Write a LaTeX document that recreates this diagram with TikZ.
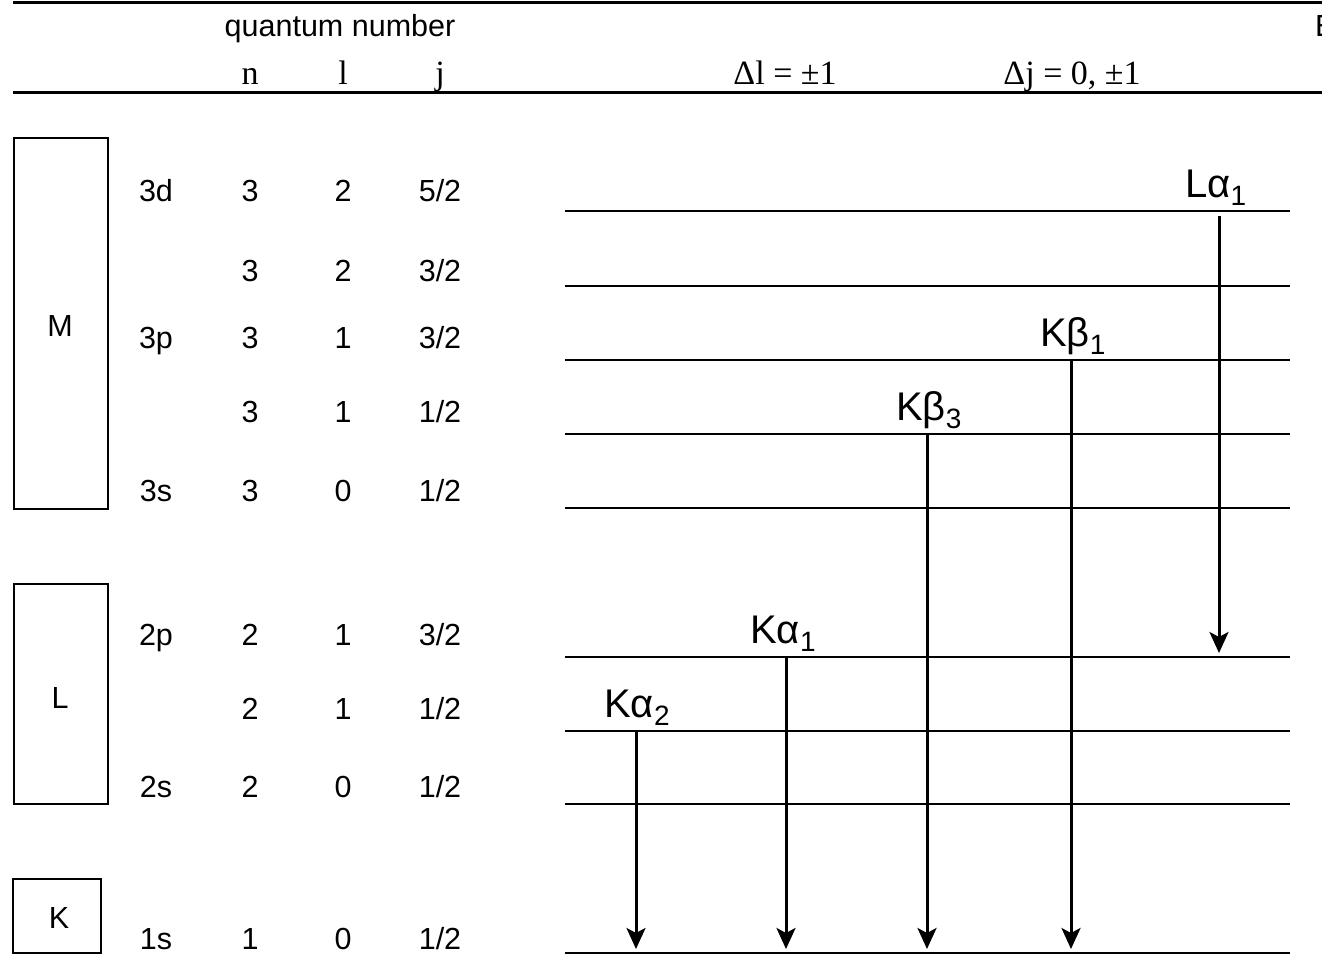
\documentclass[tikz,border=0pt]{standalone}
\usepackage{fontspec}
\setmainfont{Liberation Sans}
\newfontfamily\serfont{Liberation Serif}
\usetikzlibrary{arrows.meta}
\newcommand{\sbs}[1]{\raisebox{-0.42ex}{\fontsize{28}{28}\selectfont #1}}
\begin{document}
\begin{tikzpicture}[x=1pt,y=-1pt,
  rule/.style={line width=3pt},
  lvl/.style={line width=2.5pt},
  shellbox/.style={draw, line width=2.2pt},
  txt/.style={font=\fontsize{30.5}{30.5}\selectfont, inner sep=0, anchor=base},
  ser/.style={font=\serfont\fontsize{34}{34}\selectfont, inner sep=0, anchor=base},
  tlab/.style={font=\fontsize{40}{40}\selectfont, inner sep=0, anchor=base west},
  trans/.style={line width=3pt, shorten >=4pt, -{Stealth[length=21pt,width=19pt,inset=5pt]}}]
\useasboundingbox (0,0) rectangle (1322,955);
\clip (0,0) rectangle (1322,955);

% header rules
\coordinate (r1a) at (13,2.5); \coordinate (r1b) at (1322,2.5);
\coordinate (r2a) at (13,93);  \coordinate (r2b) at (1322,93);
\draw[rule] (r1a) -- (r1b);
\draw[rule] (r2a) -- (r2b);

% header text
\node[txt] (qn) at (340,37) {quantum number};
\node[txt, anchor=base west] (E) at (1315,37) {E};
\node[ser] (hn) at (250,85) {n};
\node[ser] (hl) at (343,85) {l};
\node[ser] (hj) at (440,85) {j};
\node[ser] (dl) at (785,85) {Δl = ±1};
\node[ser] (dj) at (1072,85) {Δj = 0, ±1};

% shell boxes
\draw[shellbox] (14,138) rectangle (108,509);
\draw[shellbox] (14,584) rectangle (108,804);
\draw[shellbox] (13,879) rectangle (101,953);
\node[txt] (M) at (60,336) {M};
\node[txt] (L) at (60,708) {L};
\node[txt] (K) at (59,928) {K};

% rows
\foreach \nm/\sub/\n/\l/\j/\yb in {
  a/3d/3/2/5\slash 2/201,
  b//3/2/3\slash 2/281,
  c/3p/3/1/3\slash 2/348,
  d//3/1/1\slash 2/422,
  e/3s/3/0/1\slash 2/501,
  f/2p/2/1/3\slash 2/645,
  g//2/1/1\slash 2/719,
  h/2s/2/0/1\slash 2/797,
  i/1s/1/0/1\slash 2/949}{
  \node[txt] (sub\nm) at (156,\yb) {\sub};
  \node[txt] (n\nm) at (250,\yb) {\n};
  \node[txt] (l\nm) at (343,\yb) {\l};
  \node[txt] (j\nm) at (440,\yb) {\j};
}

% level lines
\foreach \nm/\y in {a/211,b/286,c/360,d/434,e/508,f/657,g/731,h/804,i/953}{
  \coordinate (lev\nm W) at (565,\y);
  \coordinate (lev\nm E) at (1290,\y);
  \draw[lvl] (lev\nm W) -- (lev\nm E);
}

% transition labels
\node[tlab] (La1) at (1185,197) {Lα\sbs{1}};
\node[tlab] (Kb1) at (1040,346) {Kβ\sbs{1}};
\node[tlab] (Kb3) at (896,420) {Kβ\sbs{3}};
\node[tlab] (Ka1) at (750,643) {Kα\sbs{1}};
\node[tlab] (Ka2) at (604,717) {Kα\sbs{2}};

% transition arrows
\coordinate (ka2s) at (636,731);  \coordinate (ka2e) at (636,953);
\coordinate (ka1s) at (786,657);  \coordinate (ka1e) at (786,953);
\coordinate (kb3s) at (927,434);  \coordinate (kb3e) at (927,953);
\coordinate (kb1s) at (1071,360); \coordinate (kb1e) at (1071,953);
\coordinate (la1s) at (1219,216); \coordinate (la1e) at (1219,657);
\draw[trans] (ka2s) -- (ka2e);
\draw[trans] (ka1s) -- (ka1e);
\draw[trans] (kb3s) -- (kb3e);
\draw[trans] (kb1s) -- (kb1e);
\draw[trans] (la1s) -- (la1e);
\end{tikzpicture}
\end{document}
